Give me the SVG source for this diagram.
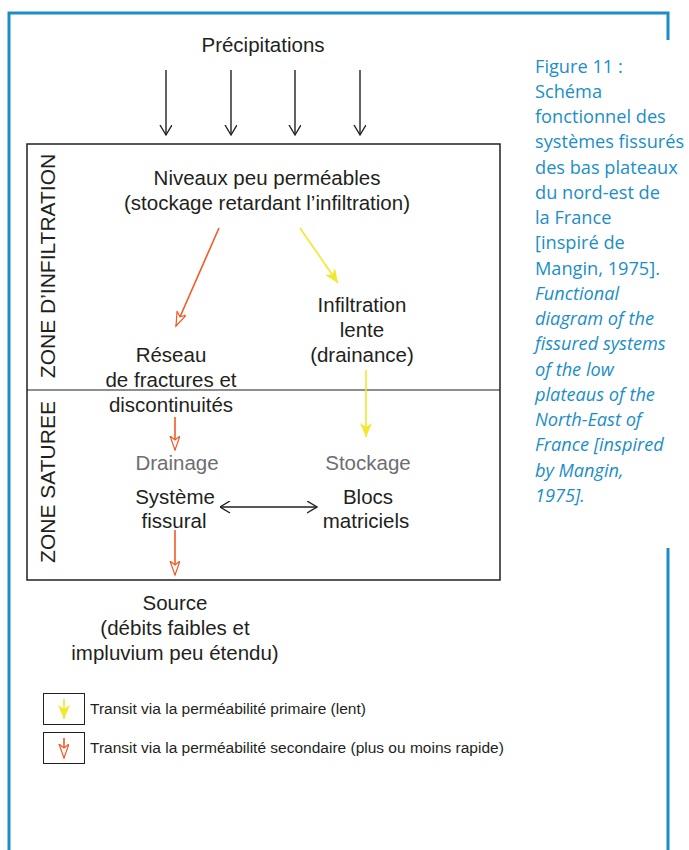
<svg xmlns="http://www.w3.org/2000/svg" width="689" height="850" viewBox="0 0 689 850">
<style>
.t{font-family:"Liberation Sans",Arial,sans-serif;font-size:20.5px;fill:#231f20;text-anchor:middle}
.g{fill:#6d6e71}
.z{font-family:"Liberation Sans",Arial,sans-serif;font-size:21px;fill:#231f20;text-anchor:middle}
.lg{font-family:"Liberation Sans",Arial,sans-serif;font-size:15.5px;fill:#231f20}
.cap{font-family:"Open Sans","Noto Sans",sans-serif;font-size:18.2px;fill:#1b8ec7}
.frame{stroke:#1b8ec7;stroke-width:3;fill:none}
.blk{stroke:#231f20;stroke-width:1.4;fill:none}
.org{stroke:#f15a24;stroke-width:1.6;fill:none}
.yel{stroke:#f2e82a;stroke-width:1.6;fill:none}
</style>
<defs>
<marker id="ab" markerWidth="14" markerHeight="14" refX="10" refY="6" orient="auto" markerUnits="userSpaceOnUse"><path d="M0,0 L10,6 L0,12" fill="none" stroke="#231f20" stroke-width="1.4"/></marker>
<marker id="abs" markerWidth="14" markerHeight="14" refX="0" refY="6" orient="auto" markerUnits="userSpaceOnUse"><path d="M10,0 L0,6 L10,12" fill="none" stroke="#231f20" stroke-width="1.4"/></marker>
<marker id="ao" markerWidth="16" markerHeight="12" refX="14" refY="5" orient="auto" markerUnits="userSpaceOnUse"><path d="M0,0 L14,5 L0,10 L4,5 Z" fill="#fff" stroke="#f15a24" stroke-width="1.2"/></marker>
<marker id="ay" markerWidth="16" markerHeight="14" refX="14" refY="6" orient="auto" markerUnits="userSpaceOnUse"><path d="M0,0 L14,6 L0,12 L4,6 Z" fill="#f2e82a"/></marker>
</defs>
<g id="frame">
<path class="frame" d="M9,850 L9,13 L668,13 L668,40"/>
<path class="frame" d="M668,548 L668,850"/>
</g>
<g id="caption">
<text class="cap" x="535" y="73">Figure 11 :</text>
<text class="cap" x="535" y="98">Schéma</text>
<text class="cap" x="535" y="123">fonctionnel des</text>
<text class="cap" x="535" y="148">systèmes fissurés</text>
<text class="cap" x="535" y="174">des bas plateaux</text>
<text class="cap" x="535" y="199">du nord-est de</text>
<text class="cap" x="535" y="224">la France</text>
<text class="cap" x="535" y="249">[inspiré de</text>
<text class="cap" x="535" y="275">Mangin, 1975].</text>
<g font-style="italic">
<text class="cap" x="535" y="300">Functional</text>
<text class="cap" x="535" y="325">diagram of the</text>
<text class="cap" x="535" y="350">fissured systems</text>
<text class="cap" x="535" y="376">of the low</text>
<text class="cap" x="535" y="401">plateaus of the</text>
<text class="cap" x="535" y="426">North-East of</text>
<text class="cap" x="535" y="451">France [inspired</text>
<text class="cap" x="535" y="477">by Mangin,</text>
<text class="cap" x="535" y="502">1975].</text>
</g>
</g>
<g id="box">
<rect x="27" y="144" width="473" height="436" fill="none" stroke="#231f20" stroke-width="1.5"/>
<line x1="27" y1="390" x2="500" y2="390" stroke="#231f20" stroke-width="1.2"/>
</g>
<g id="zone-infiltration"><text class="z" transform="translate(55,266) rotate(-90)">ZONE D’INFILTRATION</text></g>
<g id="zone-saturee"><text class="z" transform="translate(55,482) rotate(-90)">ZONE SATUREE</text></g>
<g id="precipitations"><text class="t" x="263" y="52">Précipitations</text></g>
<g id="niveaux"><text class="t" x="267" y="185">Niveaux peu perméables</text><text class="t" x="267" y="210">(stockage retardant l’infiltration)</text></g>
<g id="infiltration"><text class="t" x="362" y="312">Infiltration</text><text class="t" x="362" y="337">lente</text><text class="t" x="362" y="362">(drainance)</text></g>
<g id="reseau"><text class="t" x="171" y="362">Réseau</text><text class="t" x="171" y="387">de fractures et</text><text class="t" x="171" y="412">discontinuités</text></g>
<g id="drainage"><text class="t g" x="177" y="470">Drainage</text><text class="t" x="175" y="504">Système</text><text class="t" x="174" y="528">fissural</text></g>
<g id="stockage"><text class="t g" x="368" y="470">Stockage</text><text class="t" x="368" y="504">Blocs</text><text class="t" x="366" y="528">matriciels</text></g>
<g id="source"><text class="t" x="175" y="610">Source</text><text class="t" x="175" y="635">(débits faibles et</text><text class="t" x="175" y="660">impluvium peu étendu)</text></g>
<g id="connectors">
<line class="blk" x1="166" y1="70" x2="166" y2="135" marker-end="url(#ab)"/>
<line class="blk" x1="231" y1="70" x2="231" y2="135" marker-end="url(#ab)"/>
<line class="blk" x1="295" y1="70" x2="295" y2="135" marker-end="url(#ab)"/>
<line class="blk" x1="360" y1="70" x2="360" y2="135" marker-end="url(#ab)"/>
<line class="org" x1="219" y1="228" x2="176" y2="326" marker-end="url(#ao)"/>
<line class="yel" x1="300" y1="228" x2="338" y2="283" marker-end="url(#ay)"/>
<line class="yel" x1="366" y1="370" x2="366" y2="437" marker-end="url(#ay)"/>
<line class="org" x1="175" y1="417" x2="175" y2="450" marker-end="url(#ao)"/>
<line class="blk" x1="220" y1="507" x2="317" y2="507" marker-start="url(#abs)" marker-end="url(#ab)"/>
<line class="org" x1="175" y1="530" x2="175" y2="575" marker-end="url(#ao)"/>
</g>
<g id="legend">
<rect x="43.5" y="693.5" width="41" height="31" fill="none" stroke="#231f20" stroke-width="1"/>
<line class="yel" x1="64" y1="699" x2="64" y2="719" marker-end="url(#ay)"/>
<text class="lg" x="90" y="714">Transit via la perméabilité primaire (lent)</text>
<rect x="43.5" y="732.5" width="41" height="31" fill="none" stroke="#231f20" stroke-width="1"/>
<line class="org" x1="64" y1="738" x2="64" y2="758" marker-end="url(#ao)"/>
<text class="lg" x="90" y="753">Transit via la perméabilité secondaire (plus ou moins rapide)</text>
</g>
</svg>
